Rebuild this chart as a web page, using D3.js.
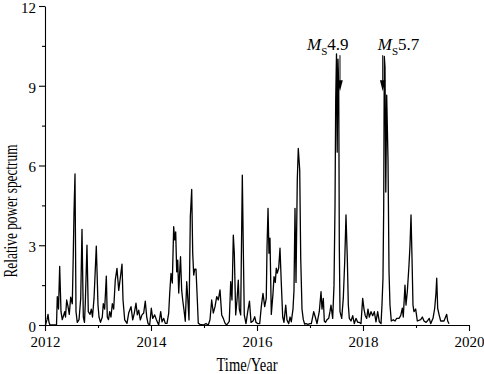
<!DOCTYPE html>
<html><head><meta charset="utf-8">
<script src="https://cdn.jsdelivr.net/npm/d3@7"></script>
<style>
html,body{margin:0;padding:0;background:#fff;}
svg{display:block;}
text{font-family:"Liberation Serif","Times New Roman",serif;fill:#000;}
</style></head>
<body>
<svg id="chart" width="484" height="374"></svg>
<script>
// decimal year
const times = [
2012.009,2012.038,2012.057,2012.075,2012.094,2012.217,2012.232,2012.255,2012.277,2012.302,
2012.326,2012.372,2012.387,2012.409,2012.434,2012.458,2012.485,2012.515,2012.534,2012.547,
2012.566,2012.585,2012.609,2012.642,2012.674,2012.698,2012.723,2012.745,2012.760,2012.792,
2012.817,2012.849,2012.874,2012.896,2012.925,2012.968,2013.000,2013.019,2013.047,2013.081,
2013.100,2013.126,2013.157,2013.175,2013.198,2013.221,2013.245,2013.270,2013.296,2013.326,
2013.358,2013.391,2013.421,2013.453,2013.472,2013.504,2013.547,2013.579,2013.623,2013.655,
2013.685,2013.717,2013.742,2013.768,2013.798,2013.830,2013.862,2013.892,2013.919,2013.943,
2013.975,2014.006,2014.032,2014.070,2014.100,2014.145,2014.183,2014.208,2014.240,2014.270,
2014.302,2014.334,2014.353,2014.377,2014.402,2014.428,2014.447,2014.466,2014.485,2014.504,
2014.523,2014.542,2014.557,2014.579,2014.598,2014.623,2014.647,2014.674,2014.692,2014.717,
2014.742,2014.768,2014.787,2014.806,2014.825,2014.849,2014.874,2014.892,2014.925,2014.987,
2015.038,2015.081,2015.113,2015.145,2015.175,2015.208,2015.240,2015.270,2015.302,2015.334,
2015.364,2015.396,2015.428,2015.477,2015.504,2015.528,2015.553,2015.572,2015.598,2015.623,
2015.647,2015.666,2015.692,2015.723,2015.742,2015.760,2015.792,2015.825,2015.858,2015.887,
2015.925,2015.957,2015.981,2016.019,2016.051,2016.081,2016.113,2016.145,2016.175,2016.189,
2016.208,2016.226,2016.245,2016.270,2016.302,2016.321,2016.345,2016.364,2016.383,2016.409,
2016.434,2016.458,2016.485,2016.509,2016.542,2016.566,2016.598,2016.623,2016.647,2016.679,
2016.698,2016.717,2016.736,2016.760,2016.779,2016.806,2016.825,2016.849,2016.874,2016.900,
2016.925,2016.962,2017.000,2017.025,2017.070,2017.100,2017.132,2017.175,2017.208,2017.226,
2017.251,2017.270,2017.292,2017.321,2017.353,2017.377,2017.396,2017.428,2017.453,2017.472,
2017.485,2017.500,2017.513,2017.528,2017.542,2017.553,2017.566,2017.598,2017.628,2017.655,
2017.679,2017.704,2017.723,2017.742,2017.774,2017.806,2017.836,2017.868,2017.900,2017.930,
2017.962,2017.994,2018.019,2018.043,2018.070,2018.094,2018.119,2018.151,2018.183,2018.213,
2018.245,2018.277,2018.308,2018.340,2018.358,2018.377,2018.391,2018.402,2018.415,2018.430,
2018.447,2018.472,2018.491,2018.509,2018.534,2018.572,2018.604,2018.636,2018.679,2018.711,
2018.742,2018.760,2018.792,2018.811,2018.836,2018.868,2018.887,2018.906,2018.925,2018.943,
2018.962,2018.994,2019.025,2019.089,2019.120,2019.151,2019.190,2019.213,2019.250,2019.277,
2019.321,2019.353,2019.377,2019.391,2019.409,2019.434,2019.466,2019.528,2019.579,2019.598,
2019.623
];
const power = [
0.0,0.2,0.4,0.1,0.0,0.0,1.07,0.6,2.2,0.5,
0.2,0.5,0.3,0.94,0.7,0.4,1.05,0.8,2.7,4.2,
5.68,0.5,0.1,0.2,1.0,3.6,0.3,0.1,0.8,3.0,
0.5,0.4,0.6,0.3,1.0,2.97,0.75,0.3,0.1,0.3,
0.8,0.6,1.84,0.3,0.2,0.5,0.3,0.8,0.6,1.69,
2.13,1.3,1.77,2.29,0.94,0.19,0.06,0.45,0.69,0.19,
0.45,0.82,0.38,0.56,0.19,0.38,0.45,0.9,0.31,0.06,
0.0,0.63,0.25,0.38,0.21,0.0,0.5,0.12,0.25,0.06,
0.06,0.45,1.19,1.94,1.58,3.7,3.2,3.5,2.0,2.44,
1.2,2.0,2.57,1.3,0.94,0.56,0.14,1.63,1.07,0.19,
4.07,5.1,2.7,1.88,2.1,2.1,0.94,0.07,0.02,0.0,
0.05,0.0,0.2,0.94,0.45,0.69,1.07,0.94,1.32,0.38,
0.25,0.07,0.0,0.14,1.63,0.94,3.38,2.7,0.38,0.94,
1.69,0.6,0.38,5.64,2.8,0.38,0.05,0.5,0.9,0.1,
0.15,0.31,0.1,0.05,0.05,0.69,1.19,0.69,1.0,2.9,
4.39,2.7,3.27,0.4,1.19,1.82,1.6,2.14,1.95,2.14,
2.89,1.6,0.3,0.1,0.75,0.19,0.05,0.3,0.12,0.6,
1.3,4.39,1.6,5.45,6.64,5.83,2.5,0.6,0.2,0.03,
0.05,0.02,0.05,0.05,0.5,0.3,0.05,0.5,1.25,0.6,
1.0,0.15,0.1,0.2,0.25,0.5,0.75,0.25,1.5,4.5,
8.46,10.2,6.5,10.0,8.96,3.0,0.5,0.25,1.0,2.38,
4.14,2.5,0.75,0.25,0.15,0.35,0.05,0.25,0.1,0.1,
0.05,1.0,0.6,0.35,0.25,0.6,0.3,0.5,0.35,0.5,
0.12,0.5,0.12,0.05,0.75,1.76,4.5,10.1,9.7,5.0,
8.65,6.2,2.0,0.75,0.15,0.2,0.15,0.25,0.25,0.35,
0.63,0.3,1.5,0.75,1.25,2.26,3.0,4.14,2.5,0.75,
0.5,0.6,0.15,0.2,0.3,0.15,0.1,0.15,0.25,0.05,
0.25,0.63,1.2,1.76,0.63,0.4,0.15,0.15,0.4,0.15,
0.05
];
const yTicks = [0, 3, 6, 9, 12];
const yMinorTicks = [1.5, 4.5, 7.5, 10.5];
const xTicks = [2012, 2014, 2016, 2018, 2020];
const xMinorTicks = [2013, 2015, 2017, 2019];
const eventYears = [2017.566, 2018.372];
const eventMags = ["4.9", "5.7"];
const eventTop = [10.15, 10.15];
const xLabel = "Time/Year";
const yLabel = "Relative power spectrum";

(function () {
const svg = d3.select("#chart");
const mLeft = 45, mRight = 469, mTop = 6, mBottom = 325;
const x = d3.scaleLinear().domain([2012, 2020]).range([mLeft, mRight]);
const y = d3.scaleLinear().domain([0, 12]).range([mBottom, mTop]);

// line
const data = times.map((t, i) => [t, power[i]]);
svg.append("path")
  .datum(data)
  .attr("fill", "none")
  .attr("stroke", "#000")
  .attr("stroke-width", 1.3)
  .attr("stroke-linejoin", "round")
  .attr("d", d3.line().x(d => x(d[0])).y(d => y(d[1])));

const fam = '"Liberation Serif","Times New Roman",serif';
// axes
const xAxis = svg.append("g").attr("transform", `translate(0,${mBottom})`)
  .call(d3.axisBottom(x).tickValues(xTicks).tickFormat(d3.format("d")).tickSize(6).tickSizeOuter(0));
xAxis.selectAll("text").attr("font-size", 15).attr("dy", "0.71em").attr("y", 11)
  .style("font-family", fam).attr("fill", "#000");
const xMinor = svg.append("g").attr("transform", `translate(0,${mBottom})`)
  .call(d3.axisBottom(x).tickValues(xMinorTicks).tickFormat("").tickSize(3).tickSizeOuter(0));
xMinor.select(".domain").remove();

const yAxis = svg.append("g").attr("transform", `translate(${mLeft},0)`)
  .call(d3.axisLeft(y).tickValues(yTicks).tickSize(6).tickSizeOuter(0));
yAxis.selectAll("text").attr("font-size", 15).attr("x", -9).attr("dy", "0.42em")
  .style("font-family", fam).attr("fill", "#000");
const yMinor = svg.append("g").attr("transform", `translate(${mLeft},0)`)
  .call(d3.axisLeft(y).tickValues(yMinorTicks).tickFormat("").tickSize(3).tickSizeOuter(0));
yMinor.select(".domain").remove();
svg.selectAll(".domain, .tick line").attr("stroke", "#000").attr("stroke-width", 1.1);

// axis labels
svg.append("text").attr("x", (mLeft + mRight) / 2 - 10).attr("y", 371)
  .attr("text-anchor", "middle").attr("font-size", 18)
  .attr("textLength", 61).attr("lengthAdjust", "spacingAndGlyphs").text(xLabel);
svg.append("text").attr("transform", `translate(17,211) rotate(-90)`)
  .attr("text-anchor", "middle").attr("font-size", 19)
  .attr("textLength", 133).attr("lengthAdjust", "spacingAndGlyphs").text(yLabel);

// event annotations
const textOffsets = [-33, -5];
eventYears.forEach((yr, i) => {
  const ax = x(yr);
  const yTop = y(eventTop[i]);
  const yTip = yTop + 36;
  svg.append("line").attr("x1", ax).attr("x2", ax).attr("y1", yTop).attr("y2", yTip - 8)
    .attr("stroke", "#000").attr("stroke-width", 1);
  svg.append("path")
    .attr("d", `M${ax - 2.8},${yTip - 11} L${ax + 2.8},${yTip - 11} L${ax},${yTip} Z`)
    .attr("fill", "#000");
  const t = svg.append("text").attr("x", ax + textOffsets[i]).attr("y", yTop - 5)
    .attr("font-size", 17);
  t.append("tspan").attr("font-style", "italic").text("M");
  t.append("tspan").attr("font-size", 11).attr("dy", 5).text("S");
  t.append("tspan").attr("dy", -5).text(eventMags[i]);
});
})();
</script>
</body></html>
